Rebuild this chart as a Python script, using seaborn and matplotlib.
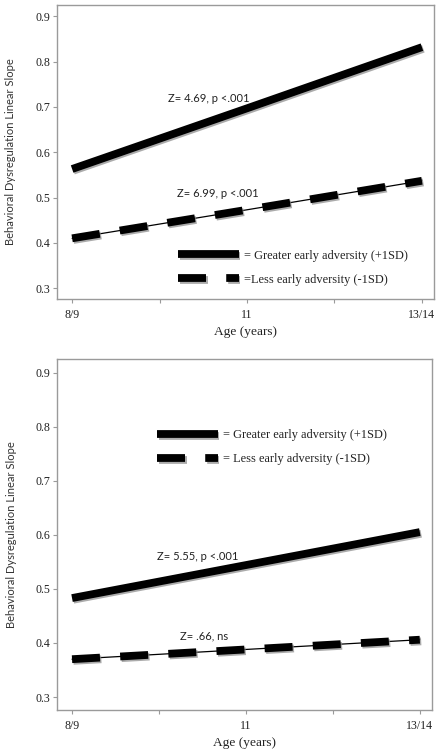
import pandas as pd
import matplotlib
matplotlib.use("Agg")
import matplotlib.pyplot as plt
import matplotlib.patheffects as pe
from matplotlib.ticker import FixedLocator
import seaborn as sns

# ------------------------------------------------------------
# data
# ------------------------------------------------------------
AGE_LABELS = ["8/9", "11", "13/14"]
AGE_POS    = [0, 1, 2]

TOP_GREATER = [0.563, 0.697, 0.832]
TOP_LESS    = [0.410, 0.473, 0.537]
BOT_GREATER = [0.483, 0.544, 0.605]
BOT_LESS    = [0.370, 0.388, 0.406]

TOP_Z = ["Z= 4.69, p <.001", "Z= 6.99, p <.001"]
BOT_Z = ["Z= 5.55, p <.001", "Z= .66, ns"]

TOP_LEGEND = ["= Greater early adversity (+1SD)", "=Less early adversity (-1SD)"]
BOT_LEGEND = ["= Greater early adversity (+1SD)", "= Less early adversity (-1SD)"]

Y_TICKS = [0.3, 0.4, 0.5, 0.6, 0.7, 0.8, 0.9]

# ------------------------------------------------------------
# style
# ------------------------------------------------------------
sns.set_theme(style="white")
plt.rcParams["font.family"] = ["Liberation Serif", "DejaVu Serif"]
SANS  = ["Lato", "DejaVu Sans"]
SERIF = ["Liberation Serif", "DejaVu Serif"]
SPINE = "#9a9a9a"
LW    = 5.6
SHADOW = [pe.SimpleLineShadow(offset=(1.0, -1.2), shadow_color="#888888", alpha=0.7),
          pe.Normal()]


def draw_panel(ax, greater, less, z_texts, z_pos, legend_labels, legend_anchor):
    df = pd.DataFrame({"age": AGE_POS, "greater": greater, "less": less})

    sns.lineplot(data=df, x="age", y="greater", ax=ax, color="black",
                 linewidth=LW, label=legend_labels[0], solid_capstyle="butt",
                 path_effects=SHADOW)
    # thin connecting line under the dashes
    sns.lineplot(data=df, x="age", y="less", ax=ax, color="black",
                 linewidth=0.9, legend=False)
    sns.lineplot(data=df, x="age", y="less", ax=ax, color="black",
                 linewidth=LW, label=legend_labels[1], dashes=False,
                 path_effects=SHADOW)
    ax.lines[-1].set_dashes((3.6, 2.6))
    ax.lines[-1].set_dash_capstyle("butt")

    for txt, (x, y) in zip(z_texts, z_pos):
        ax.text(x, y, txt, family=SANS, fontsize=8.0, color="#222222",
                ha="left", va="center")

    leg = ax.legend(loc="upper left", bbox_to_anchor=legend_anchor,
                    frameon=False, handlelength=4.9, handletextpad=0.45,
                    labelspacing=0.98, borderpad=0, borderaxespad=0,
                    prop={"family": SERIF, "size": 8.9})
    for t in leg.get_texts():
        t.set_color("#222222")

    ax.set_xlim(-0.086, 2.07)
    ax.set_ylim(0.276, 0.925)
    ax.xaxis.set_major_locator(FixedLocator(AGE_POS))
    ax.xaxis.set_minor_locator(FixedLocator([0.5, 1.5]))
    ax.set_xticklabels(AGE_LABELS)
    ax.set_yticks(Y_TICKS)
    ax.set_yticklabels([f"{v:.1f}" for v in Y_TICKS])
    ax.tick_params(axis="both", which="both", direction="out", length=3,
                   width=0.8, color=SPINE, labelsize=8.6, labelcolor="#222222",
                   bottom=True, left=True)
    ax.tick_params(axis="x", pad=4)
    ax.tick_params(axis="y", pad=2)
    for s in ax.spines.values():
        s.set_color(SPINE)
        s.set_linewidth(1.0)
    ax.set_xlabel("Age (years)", fontsize=9.6, color="#222222", labelpad=4)
    ax.set_ylabel("Behavioral Dysregulation Linear Slope", family=SANS,
                  fontsize=8.0, color="#333333")
    ax.yaxis.set_label_coords(-0.108, 0.5)


fig = plt.figure(figsize=(4.39, 7.5), dpi=100)
ax_top = fig.add_axes([0.130, 0.6013, 0.859, 0.392])
ax_bot = fig.add_axes([0.130, 0.0533, 0.854, 0.468])

draw_panel(ax_top, TOP_GREATER, TOP_LESS, TOP_Z,
           [(0.55, 0.719), (0.60, 0.508)], TOP_LEGEND, (0.321, 0.168))
draw_panel(ax_bot, BOT_GREATER, BOT_LESS, BOT_Z,
           [(0.49, 0.559), (0.62, 0.413)], BOT_LEGEND, (0.267, 0.80))

fig.savefig("out.png", dpi=100)
